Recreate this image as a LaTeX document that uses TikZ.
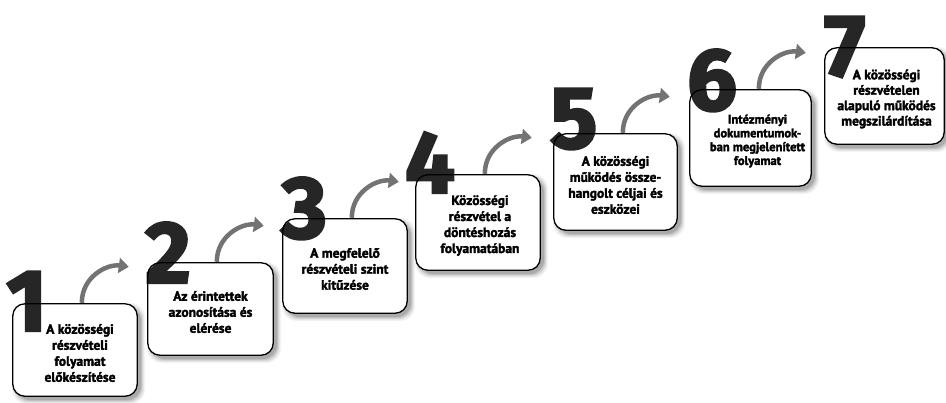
\documentclass[tikz,border=0pt]{standalone}
\usepackage{fontspec}
\setmainfont{PT Sans}
\newfontfamily\digitfont{Fira Sans}
\usetikzlibrary{calc,arrows.meta}
\definecolor{digitgray}{HTML}{262626}
\definecolor{arrowgray}{HTML}{737373}
\newcommand\heavy[2]{\special{pdf:literal 2 Tr #1 w}#2\special{pdf:literal 0 Tr 0.4 w}}
\newcommand\lsx{0}
\newcommand\lfs{13.5}
\newcommand\lbs{16}
\tikzset{
  boxfill/.style={rectangle, rounded corners=12pt, fill=white, inner sep=0pt},
  boxline/.style={draw=black, line width=1.3pt, rounded corners=12pt},
  steplabel/.style={font=\bfseries\fontsize{\lfs}{\lbs}\selectfont, align=center, text=black, inner sep=0pt},
  bigdigit/.style={font=\digitfont\bfseries\fontsize{88}{88}\selectfont, text=digitgray, inner sep=0pt, anchor=base west},
  steparrow/.style={draw=arrowgray, line width=4.5pt, -{Triangle[length=10pt,width=15pt]}},
  shadelayer/.style={fill=black, rounded corners=14pt}
}
\newcommand\mkstep[9]{%
  \foreach \s/\o in {8/0.04,6/0.05,4/0.07,2/0.09,0/0.12}{
    \fill[shadelayer, opacity=\o] (#2+3-\s/2, #3+3-\s/2) rectangle (#4+4+\s/2, #5+4+\s/2);
  }
  \node[boxfill, minimum width={#4-#2}, minimum height={#5-#3}] (#1) at ({(#2+#4)/2},{(#3+#5)/2}) {};
  \node[bigdigit] (#1d) at (#2+#8, #3+#9) {\heavy{2.4}{#6}};
  \draw[boxline] (#1.north west) rectangle (#1.south east);
  \node[steplabel] (#1t) at ($(#1.center)+(\lsx,3)$) {\heavy{0.3}{#7}};
}
\begin{document}
\begin{tikzpicture}[x=1pt,y=-1pt]
\useasboundingbox (0,0) rectangle (946,402);
\fill[white] (0,0) rectangle (946,402);
\renewcommand\lsx{5}
\mkstep{b1}{13}{304}{137}{396}{1}{A közösségi\\részvételi\\folyamat\\előkészítése}{-7}{27}
\renewcommand\lsx{0}
\mkstep{b2}{148}{263}{273}{355}{2}{Az érintettek\\azonosítása és\\elérése}{-3}{20}
\mkstep{b3}{283}{219}{407}{313}{3}{A megfelelő\\részvételi szint\\kitűzése}{-2}{19}
\renewcommand\lsx{2}
\mkstep{b4}{416}{175}{540}{270}{4}{Közösségi\\részvétel a\\döntéshozás\\folyamatában}{-11}{18}
\renewcommand\lsx{0}
\mkstep{b5}{554}{134}{677}{230}{5}{A közösségi\\működés össze-\\hangolt céljai és\\eszközei}{-4}{14}
\renewcommand\lsx{7}\renewcommand\lfs{12.5}\renewcommand\lbs{13.8}
\mkstep{b6}{690}{90}{811}{186}{6}{Intézményi\\dokumentumok-\\ban megjelenített\\folyamat}{-3}{20}
\renewcommand\lsx{2}\renewcommand\lfs{13.5}\renewcommand\lbs{15.4}
\mkstep{b7}{825}{48}{944}{144}{7}{A közösségi\\részvételen\\alapuló működés\\megszilárdítása}{-1}{28}
\foreach \b in {b1,b2,b3,b4,b5,b6}{
  \coordinate (\b s) at ($(\b.north west)+(69,-1)$);
  \coordinate (\b a) at ($(\b.north west)+(116,-37)$);
  \draw[steparrow] (\b s) .. controls +(0,-26) and +(-22,-3) .. (\b a);
}
\end{tikzpicture}
\end{document}
